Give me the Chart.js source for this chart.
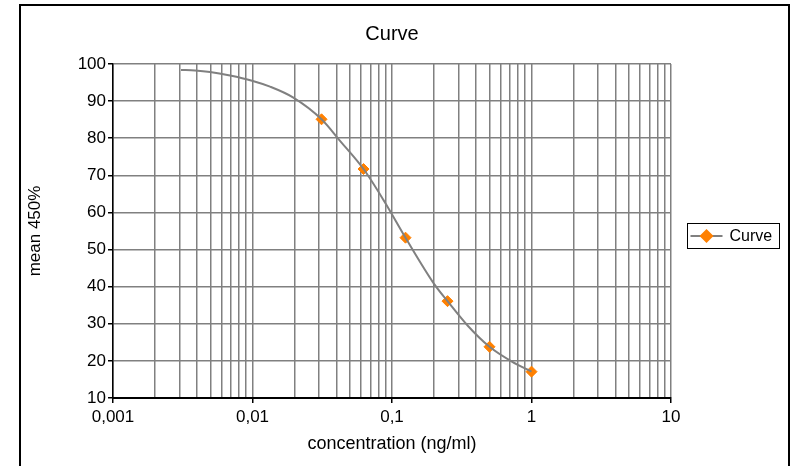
<!DOCTYPE html>
<html lang="en">
<head>
  <meta charset="UTF-8">
  <title>Curve</title>
  <script src="https://cdn.jsdelivr.net/npm/chart.js"></script>
  <style>
    body {
      margin: 0;
      background: #fff;
      overflow: hidden;
    }
    .frame {
      position: absolute;
      left: 19px;
      top: 4px;
      width: 767px;
      height: 470px;
      border: 2px solid #000;
    }
    .wrap {
      position: absolute;
      left: 0;
      top: 0;
      width: 794px;
      height: 466px;
    }
  </style>
</head>
<body>
  <div class="frame"></div>
  <div class="wrap"><canvas id="curveChart" width="794" height="466"></canvas></div>

  <script>
    // measured points
    const concentrations = [0.03125, 0.0625, 0.125, 0.25, 0.5, 1];
    const meanValues = [85.1, 71.7, 53.2, 36.1, 23.8, 17.1];

    // fitted curve
    const curveX = [0.00307, 0.00387, 0.00496, 0.0069, 0.00992, 0.01335, 0.0195, 0.03125, 0.0424, 0.0625, 0.0884, 0.125, 0.2033, 0.25, 0.3506, 0.5, 0.7236, 1];
    const curveY = [98.4, 98.25, 97.85, 96.9, 95.5, 93.9, 91.0, 85.1, 79.3, 71.7, 62.9, 53.2, 40.4, 36.1, 29.4, 23.8, 19.8, 17.1];

    // axis ticks
    const xTickValues = [
      0.001, 0.002, 0.003, 0.004, 0.005, 0.006, 0.007, 0.008, 0.009,
      0.01, 0.02, 0.03, 0.04, 0.05, 0.06, 0.07, 0.08, 0.09,
      0.1, 0.2, 0.3, 0.4, 0.5, 0.6, 0.7, 0.8, 0.9,
      1, 2, 3, 4, 5, 6, 7, 8, 9,
      10
    ];
    const xDecades = [0.001, 0.01, 0.1, 1, 10];
    const xDecadeLabels = ['0,001', '0,01', '0,1', '1', '10'];

    const FONT = "'Liberation Sans', Arial, sans-serif";
    const ORANGE = '#ff8000';
    const GRID = '#808080';

    function decadeIndex(v) {
      return xDecades.findIndex(d => Math.abs(d - v) / d < 1e-6);
    }

    const boxLegend = {
      id: 'boxLegend',
      afterDraw(chart) {
        const ctx = chart.ctx;
        const area = chart.chartArea;
        const x = area.right + 16.5, y = 223.5, w = 92, h = 25;
        const cy = y + h / 2;
        ctx.save();
        ctx.strokeStyle = '#000';
        ctx.lineWidth = 1;
        ctx.strokeRect(x, y, w, h);
        ctx.strokeStyle = GRID;
        ctx.lineWidth = 2;
        ctx.beginPath();
        ctx.moveTo(x + 3, cy);
        ctx.lineTo(x + 35, cy);
        ctx.stroke();
        const mx = x + 19, r = 7;
        ctx.fillStyle = ORANGE;
        ctx.beginPath();
        ctx.moveTo(mx, cy - r);
        ctx.lineTo(mx + r, cy);
        ctx.lineTo(mx, cy + r);
        ctx.lineTo(mx - r, cy);
        ctx.closePath();
        ctx.fill();
        ctx.fillStyle = '#000';
        ctx.font = '16px ' + FONT;
        ctx.textBaseline = 'middle';
        ctx.fillText(chart.data.datasets[1].label, x + 42, cy + 1);
        ctx.restore();
      }
    };

    new Chart(document.getElementById('curveChart'), {
      type: 'line',
      data: {
        datasets: [
          {
            label: 'fit',
            data: curveX.map((x, i) => ({ x: x, y: curveY[i] })),
            borderColor: GRID,
            borderWidth: 2,
            pointRadius: 0,
            cubicInterpolationMode: 'monotone',
            fill: false
          },
          {
            label: 'Curve',
            data: concentrations.map((x, i) => ({ x: x, y: meanValues[i] })),
            showLine: false,
            pointStyle: 'rectRot',
            pointRadius: 5.5,
            pointBackgroundColor: ORANGE,
            pointBorderColor: ORANGE,
            pointBorderWidth: 1
          }
        ]
      },
      options: {
        responsive: false,
        animation: false,
        layout: {
          padding: { left: 20, right: 123, top: 10, bottom: 11 }
        },
        plugins: {
          legend: { display: false },
          tooltip: { enabled: false },
          title: {
            display: true,
            fullSize: false,
            text: 'Curve',
            color: '#000',
            font: { family: FONT, size: 20, weight: 'normal' },
            padding: { top: 12, bottom: 18 }
          }
        },
        scales: {
          x: {
            type: 'logarithmic',
            min: 0.001,
            max: 10,
            afterBuildTicks(scale) {
              scale.ticks = xTickValues.map(v => ({ value: v }));
            },
            afterFit(scale) {
              scale.height = 57;
            },
            ticks: {
              autoSkip: false,
              maxRotation: 0,
              color: '#000',
              padding: 4,
              font: { family: FONT, size: 17 },
              callback(value) {
                const i = decadeIndex(value);
                return i >= 0 ? xDecadeLabels[i] : '';
              }
            },
            grid: {
              color: GRID,
              lineWidth: 1.5,
              tickLength: 5,
              tickColor(ctx) {
                return ctx.tick && decadeIndex(ctx.tick.value) >= 0 ? '#000' : 'rgba(0,0,0,0)';
              }
            },
            border: { color: '#000', width: 2 },
            title: {
              display: true,
              text: 'concentration (ng/ml)',
              color: '#000',
              font: { family: FONT, size: 18 },
              padding: { top: 0, bottom: 0 }
            }
          },
          y: {
            min: 10,
            max: 100,
            afterFit(scale) {
              scale.width = 93;
            },
            ticks: {
              stepSize: 10,
              color: '#000',
              padding: 2,
              font: { family: FONT, size: 17 }
            },
            grid: {
              color: GRID,
              lineWidth: 1.5,
              tickLength: 5,
              tickColor: '#000'
            },
            border: { color: '#000', width: 1.5 },
            title: {
              display: true,
              text: 'mean 450%',
              color: '#000',
              font: { family: FONT, size: 17 },
              padding: { top: 5, bottom: 0 }
            }
          }
        }
      },
      plugins: [boxLegend]
    });
  </script>
</body>
</html>
